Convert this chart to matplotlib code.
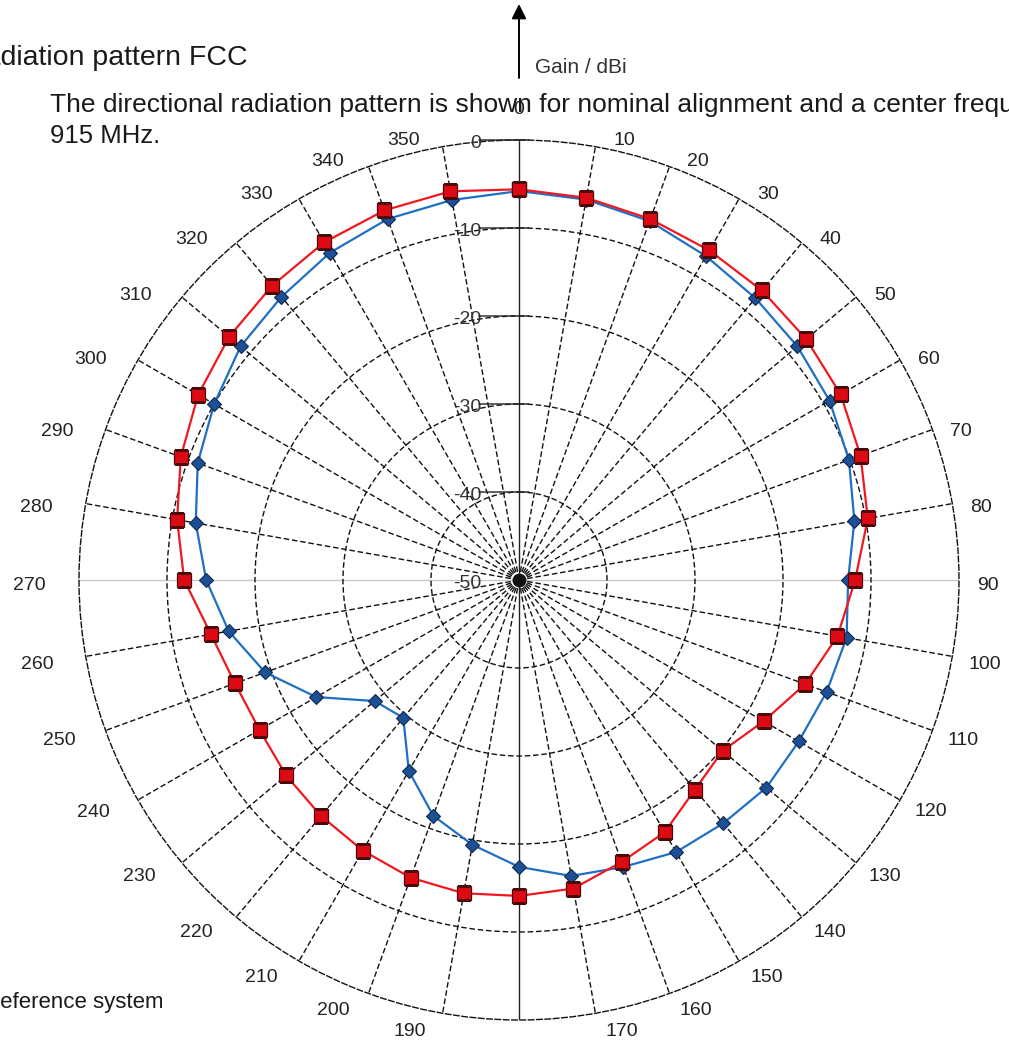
import numpy as np
import matplotlib
matplotlib.use('Agg')
import matplotlib.pyplot as plt

plt.rcParams['font.family'] = ['Liberation Sans', 'DejaVu Sans']

# azimuth in degrees, gain in dBi
angles = list(range(0, 360, 10))
gain_red = [-5.6, -5.9, -6.35, -6.75, -7.05, -7.4, -7.8, -8.7, -9.75, -11.8,
            -13.25, -15.4, -17.9, -19.8, -18.9, -16.9, -15.9, -14.4, -14.1, -13.85,
            -14.0, -14.5, -15.0, -15.45, -15.95, -15.65, -14.45, -11.95, -10.55, -9.1,
            -7.9, -7.0, -6.35, -5.7, -5.3, -5.15]
gain_blue = [-5.8, -6.1, -6.6, -7.5, -8.2, -8.7, -9.25, -10.1, -11.3, -12.6,
             -12.2, -12.8, -13.3, -13.3, -13.9, -14.3, -15.3, -15.85, -17.4, -19.45,
             -21.5, -24.95, -29.55, -28.6, -23.4, -19.3, -16.5, -14.45, -12.7, -11.15,
             -10.0, -8.7, -8.0, -7.05, -6.35, -6.15]
rings = [-50, -40, -30, -20, -10, 0]
ring_labels = ['-50', '-40', '-30', '-20', '-10', '0']

W, H = 1009, 1041
fig = plt.figure(figsize=(W / 100, H / 100), dpi=100)
cx, cy, R = 519, 580, 440
ax = fig.add_axes([(cx - R) / W, (H - cy - R) / H, 2 * R / W, 2 * R / H], projection='polar')
ax.set_theta_zero_location('N')
ax.set_theta_direction(-1)
ax.set_ylim(-50, 0)

dash = (0, (4, 2))
ax.set_thetagrids(angles, labels=[''] * len(angles))
for a, gl in zip(angles, ax.xaxis.get_gridlines()):
    if a in (0, 180):
        gl.set(color='#222222', linestyle='-', linewidth=1.0)
    elif a in (90, 270):
        gl.set(color='#c8c8c8', linestyle='-', linewidth=1.0)
    else:
        gl.set(color='#111111', linestyle=dash, linewidth=1.0)
ax.set_rgrids(rings[1:-1], labels=[''] * (len(rings) - 2))
for gl in ax.yaxis.get_gridlines():
    gl.set(color='#111111', linestyle=dash, linewidth=1.0)
ax.spines['polar'].set(linestyle=dash, linewidth=1.0, color='#111111')
ax.tick_params(length=0)

# dark hub where the spokes meet
ax.plot([0], [rings[0]], 'o', color='#111111', markersize=9, zorder=2, clip_on=False)

# angle labels around the rim
for a in angles:
    t = np.deg2rad(a)
    s, c = np.sin(t), np.cos(t)
    if a in (0, 180):
        ax.annotate(str(a), xy=(t, 0), xytext=(0, 30 * c), textcoords='offset pixels',
                    ha='center', va='center', fontsize=14, color='#222222',
                    annotation_clip=False)
        continue
    dy = 6 - 12 * c
    if a < 180:
        dx, ha = 18 - 8 * max(0, -c), 'left'
    else:
        dx, ha = -(20 + 13 * abs(s) - 6 * max(0, -c)), 'right'
    ax.annotate(str(a), xy=(t, 0), xytext=(dx, -dy), textcoords='offset pixels',
                ha=ha, va='center', fontsize=14, color='#222222',
                annotation_clip=False)

# radial scale labels and ticks along the 0 deg axis
for v, lbl in zip(rings, ring_labels):
    ax.annotate(lbl, xy=(0, v), xytext=(-38, -4), textcoords='offset pixels',
                ha='right', va='center', fontsize=14, color='#333333',
                annotation_clip=False)
    if v > -50:
        for off in (-40, 10):
            ax.annotate('', xy=(0, v), xytext=(off, 0), textcoords='offset pixels',
                        arrowprops=dict(arrowstyle='-', color='#222222', lw=1.0,
                                        shrinkA=0, shrinkB=0),
                        annotation_clip=False)

th = np.deg2rad(angles + [angles[0]])
ax.plot(th, gain_blue + [gain_blue[0]], color='#1f6fc4', linewidth=1.6,
        marker='D', markersize=7, markerfacecolor='#1d4f94',
        markeredgecolor='#0d2a55', markeredgewidth=0.8, zorder=3)
ax.plot(th, gain_red + [gain_red[0]], color='#f01820', linewidth=1.6,
        marker='s', markersize=10, markerfacecolor='#dd0a14',
        markeredgecolor='#4a0a0a', markeredgewidth=0.9, zorder=4)

# gain axis arrow above the plot
ax.annotate('', xy=(cx / W, 1 - 4 / H), xycoords='figure fraction',
            xytext=(cx / W, 1 - 78 / H), textcoords='figure fraction',
            arrowprops=dict(arrowstyle='-|>', color='black', lw=1.4,
                            mutation_scale=22, shrinkA=0, shrinkB=0))
fig.text(535 / W, 1 - 73 / H, 'Gain / dBi', fontsize=15, color='#333333', va='baseline')

fig.text(-36 / W, 1 - 65 / H, 'Radiation pattern FCC', fontsize=20.5, color='#1a1a1a', va='baseline')
fig.text(50 / W, 1 - 112 / H,
         'The directional radiation pattern is shown for nominal alignment and a center frequency of',
         fontsize=19, color='#1a1a1a', va='baseline')
fig.text(50 / W, 1 - 143 / H, '915 MHz.', fontsize=18.5, color='#1a1a1a', va='baseline')
fig.text(-16 / W, 1 - 1008 / H, 'Reference system', fontsize=16, color='#1a1a1a', va='baseline')

plt.savefig('out.png', dpi=100)
